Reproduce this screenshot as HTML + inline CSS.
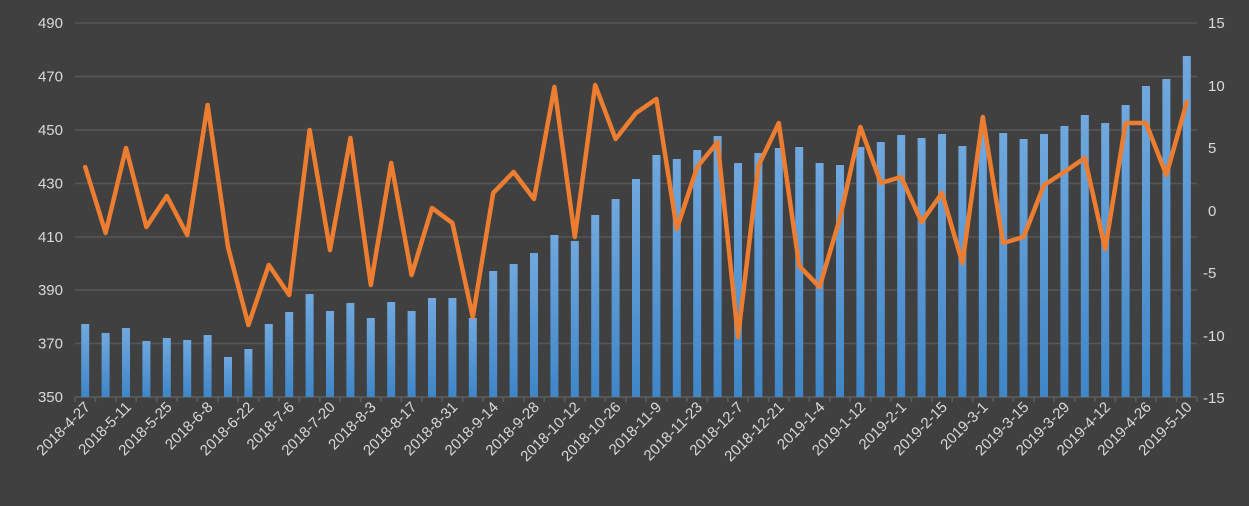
<!DOCTYPE html>
<html><head><meta charset="utf-8"><style>
html,body{margin:0;padding:0;background:#404040;}
svg{display:block;font-family:"Liberation Sans",sans-serif;}
text{fill:#d9d9d9;font-size:15px;}
</style></head><body>
<svg width="1249" height="506" viewBox="0 0 1249 506" xmlns="http://www.w3.org/2000/svg">
<defs><linearGradient id="g" x1="0" y1="0" x2="0" y2="1"><stop offset="0" stop-color="#70a8de"/><stop offset="1" stop-color="#3f86c8"/></linearGradient></defs>
<rect width="1249" height="506" fill="#404040"/>
<g stroke="#575757" stroke-width="1.5">
<line x1="75" y1="23" x2="1197" y2="23"/><line x1="75" y1="76.5" x2="1197" y2="76.5"/><line x1="75" y1="130" x2="1197" y2="130"/><line x1="75" y1="183.5" x2="1197" y2="183.5"/><line x1="75" y1="237" x2="1197" y2="237"/><line x1="75" y1="290" x2="1197" y2="290"/><line x1="75" y1="343.5" x2="1197" y2="343.5"/>
<line x1="75" y1="397" x2="1197" y2="397" stroke="#5e5e5e"/>
</g>
<g stroke="#5e5e5e" stroke-width="1.5">
<line x1="75" y1="397" x2="75" y2="402"/><line x1="95.4" y1="397" x2="95.4" y2="402"/><line x1="115.8" y1="397" x2="115.8" y2="402"/><line x1="136.2" y1="397" x2="136.2" y2="402"/><line x1="156.6" y1="397" x2="156.6" y2="402"/><line x1="177" y1="397" x2="177" y2="402"/><line x1="197.4" y1="397" x2="197.4" y2="402"/><line x1="217.8" y1="397" x2="217.8" y2="402"/><line x1="238.2" y1="397" x2="238.2" y2="402"/><line x1="258.6" y1="397" x2="258.6" y2="402"/><line x1="279" y1="397" x2="279" y2="402"/><line x1="299.4" y1="397" x2="299.4" y2="402"/><line x1="319.8" y1="397" x2="319.8" y2="402"/><line x1="340.2" y1="397" x2="340.2" y2="402"/><line x1="360.6" y1="397" x2="360.6" y2="402"/><line x1="381" y1="397" x2="381" y2="402"/><line x1="401.4" y1="397" x2="401.4" y2="402"/><line x1="421.8" y1="397" x2="421.8" y2="402"/><line x1="442.2" y1="397" x2="442.2" y2="402"/><line x1="462.6" y1="397" x2="462.6" y2="402"/><line x1="483" y1="397" x2="483" y2="402"/><line x1="503.4" y1="397" x2="503.4" y2="402"/><line x1="523.8" y1="397" x2="523.8" y2="402"/><line x1="544.2" y1="397" x2="544.2" y2="402"/><line x1="564.6" y1="397" x2="564.6" y2="402"/><line x1="585" y1="397" x2="585" y2="402"/><line x1="605.4" y1="397" x2="605.4" y2="402"/><line x1="625.8" y1="397" x2="625.8" y2="402"/><line x1="646.2" y1="397" x2="646.2" y2="402"/><line x1="666.6" y1="397" x2="666.6" y2="402"/><line x1="687" y1="397" x2="687" y2="402"/><line x1="707.4" y1="397" x2="707.4" y2="402"/><line x1="727.8" y1="397" x2="727.8" y2="402"/><line x1="748.2" y1="397" x2="748.2" y2="402"/><line x1="768.6" y1="397" x2="768.6" y2="402"/><line x1="789" y1="397" x2="789" y2="402"/><line x1="809.4" y1="397" x2="809.4" y2="402"/><line x1="829.8" y1="397" x2="829.8" y2="402"/><line x1="850.2" y1="397" x2="850.2" y2="402"/><line x1="870.6" y1="397" x2="870.6" y2="402"/><line x1="891" y1="397" x2="891" y2="402"/><line x1="911.4" y1="397" x2="911.4" y2="402"/><line x1="931.8" y1="397" x2="931.8" y2="402"/><line x1="952.2" y1="397" x2="952.2" y2="402"/><line x1="972.6" y1="397" x2="972.6" y2="402"/><line x1="993" y1="397" x2="993" y2="402"/><line x1="1013.4" y1="397" x2="1013.4" y2="402"/><line x1="1033.8" y1="397" x2="1033.8" y2="402"/><line x1="1054.2" y1="397" x2="1054.2" y2="402"/><line x1="1074.6" y1="397" x2="1074.6" y2="402"/><line x1="1095" y1="397" x2="1095" y2="402"/><line x1="1115.4" y1="397" x2="1115.4" y2="402"/><line x1="1135.8" y1="397" x2="1135.8" y2="402"/><line x1="1156.2" y1="397" x2="1156.2" y2="402"/><line x1="1176.6" y1="397" x2="1176.6" y2="402"/><line x1="1197" y1="397" x2="1197" y2="402"/>
</g>
<g fill="url(#g)">
<rect x="81.2" y="324" width="8" height="73"/><rect x="101.6" y="333" width="8" height="64"/><rect x="122" y="328" width="8" height="69"/><rect x="142.4" y="341" width="8" height="56"/><rect x="162.8" y="338" width="8" height="59"/><rect x="183.2" y="340" width="8" height="57"/><rect x="203.6" y="335" width="8" height="62"/><rect x="224" y="357" width="8" height="40"/><rect x="244.4" y="349" width="8" height="48"/><rect x="264.8" y="324" width="8" height="73"/>
<rect x="285.2" y="312" width="8" height="85"/><rect x="305.6" y="294" width="8" height="103"/><rect x="326" y="311" width="8" height="86"/><rect x="346.4" y="303" width="8" height="94"/><rect x="366.8" y="318" width="8" height="79"/><rect x="387.2" y="302" width="8" height="95"/><rect x="407.6" y="311" width="8" height="86"/><rect x="428" y="298" width="8" height="99"/><rect x="448.4" y="298" width="8" height="99"/><rect x="468.8" y="318" width="8" height="79"/>
<rect x="489.2" y="271" width="8" height="126"/><rect x="509.6" y="264" width="8" height="133"/><rect x="530" y="253" width="8" height="144"/><rect x="550.4" y="235" width="8" height="162"/><rect x="570.8" y="241" width="8" height="156"/><rect x="591.2" y="215" width="8" height="182"/><rect x="611.6" y="199" width="8" height="198"/><rect x="632" y="179" width="8" height="218"/><rect x="652.4" y="155" width="8" height="242"/><rect x="672.8" y="159" width="8" height="238"/>
<rect x="693.2" y="150" width="8" height="247"/><rect x="713.6" y="136" width="8" height="261"/><rect x="734" y="163" width="8" height="234"/><rect x="754.4" y="153" width="8" height="244"/><rect x="774.8" y="148" width="8" height="249"/><rect x="795.2" y="147" width="8" height="250"/><rect x="815.6" y="163" width="8" height="234"/><rect x="836" y="165" width="8" height="232"/><rect x="856.4" y="147" width="8" height="250"/><rect x="876.8" y="142" width="8" height="255"/>
<rect x="897.2" y="135" width="8" height="262"/><rect x="917.6" y="138" width="8" height="259"/><rect x="938" y="134" width="8" height="263"/><rect x="958.4" y="146" width="8" height="251"/><rect x="978.8" y="133" width="8" height="264"/><rect x="999.2" y="133" width="8" height="264"/><rect x="1019.6" y="139" width="8" height="258"/><rect x="1040" y="134" width="8" height="263"/><rect x="1060.4" y="126" width="8" height="271"/><rect x="1080.8" y="115" width="8" height="282"/>
<rect x="1101.2" y="123" width="8" height="274"/><rect x="1121.6" y="105" width="8" height="292"/><rect x="1142" y="86" width="8" height="311"/><rect x="1162.4" y="79" width="8" height="318"/><rect x="1182.8" y="56" width="8" height="341"/>
</g>
<polyline fill="none" stroke="#ed7d31" stroke-width="4.5" stroke-linejoin="round" stroke-linecap="round" points="85.2,167 105.6,233 126,148 146.4,227 166.8,196 187.2,235 207.6,105 228,247 248.4,325 268.8,265 289.2,295 309.6,130 330,250 350.4,138 370.8,285 391.2,163 411.6,275 432,208 452.4,223 472.8,317 493.2,193 513.6,172 534,199 554.4,87 574.8,237 595.2,85 615.6,139 636,113 656.4,99 676.8,229 697.2,167 717.6,142 738,337 758.4,166 778.8,123 799.2,266 819.6,287 840,218 860.4,127 880.8,183 901.2,177 921.6,222 942,193 962.4,263 982.8,117 1003.2,243 1023.6,237 1044,185 1064.4,172 1084.8,158 1105.2,249 1125.6,123 1146,123 1166.4,175 1186.8,102"/>
<g text-anchor="end" font-size="16">
<text x="63" y="28" font-size="16">490</text><text x="63" y="81.5" font-size="16">470</text><text x="63" y="135" font-size="16">450</text><text x="63" y="188.5" font-size="16">430</text><text x="63" y="242" font-size="16">410</text><text x="63" y="295" font-size="16">390</text><text x="63" y="348.5" font-size="16">370</text><text x="63" y="402" font-size="16">350</text>
</g>
<g text-anchor="start">
<text x="1208" y="28" font-size="16">15</text><text x="1208" y="91" font-size="16">10</text><text x="1208" y="153" font-size="16">5</text><text x="1208" y="216" font-size="16">0</text><text x="1203" y="278" font-size="16">-5</text><text x="1203" y="341" font-size="16">-10</text><text x="1203" y="403" font-size="16">-15</text>
</g>
<g text-anchor="end">
<text transform="translate(91,408) rotate(-45)">2018-4-27</text>
<text transform="translate(132,408) rotate(-45)">2018-5-11</text>
<text transform="translate(172.8,408) rotate(-45)">2018-5-25</text>
<text transform="translate(213.6,408) rotate(-45)">2018-6-8</text>
<text transform="translate(254.4,408) rotate(-45)">2018-6-22</text>
<text transform="translate(295.2,408) rotate(-45)">2018-7-6</text>
<text transform="translate(336,408) rotate(-45)">2018-7-20</text>
<text transform="translate(376.8,408) rotate(-45)">2018-8-3</text>
<text transform="translate(417.6,408) rotate(-45)">2018-8-17</text>
<text transform="translate(458.4,408) rotate(-45)">2018-8-31</text>
<text transform="translate(499.2,408) rotate(-45)">2018-9-14</text>
<text transform="translate(540,408) rotate(-45)">2018-9-28</text>
<text transform="translate(580.8,408) rotate(-45)">2018-10-12</text>
<text transform="translate(621.6,408) rotate(-45)">2018-10-26</text>
<text transform="translate(662.4,408) rotate(-45)">2018-11-9</text>
<text transform="translate(703.2,408) rotate(-45)">2018-11-23</text>
<text transform="translate(744,408) rotate(-45)">2018-12-7</text>
<text transform="translate(784.8,408) rotate(-45)">2018-12-21</text>
<text transform="translate(825.6,408) rotate(-45)">2019-1-4</text>
<text transform="translate(866.4,408) rotate(-45)">2019-1-12</text>
<text transform="translate(907.2,408) rotate(-45)">2019-2-1</text>
<text transform="translate(948,408) rotate(-45)">2019-2-15</text>
<text transform="translate(988.8,408) rotate(-45)">2019-3-1</text>
<text transform="translate(1029.6,408) rotate(-45)">2019-3-15</text>
<text transform="translate(1070.4,408) rotate(-45)">2019-3-29</text>
<text transform="translate(1111.2,408) rotate(-45)">2019-4-12</text>
<text transform="translate(1152,408) rotate(-45)">2019-4-26</text>
<text transform="translate(1192.8,408) rotate(-45)">2019-5-10</text>
</g>
</svg>
</body></html>
